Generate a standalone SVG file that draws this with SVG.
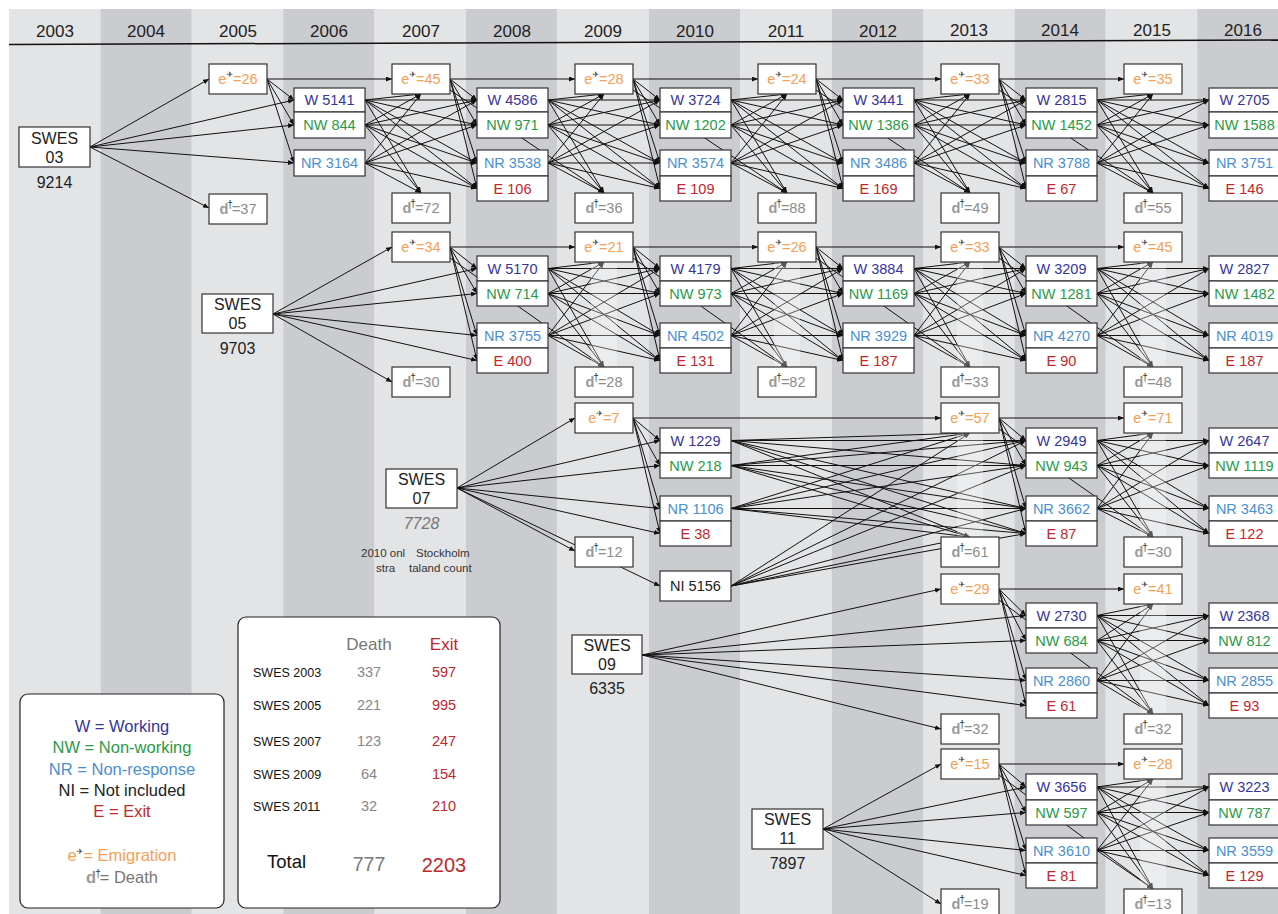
<svg xmlns="http://www.w3.org/2000/svg" width="1278" height="914" viewBox="0 0 1278 914">
<defs>
<marker id="ah" markerUnits="userSpaceOnUse" markerWidth="7" markerHeight="6" refX="6" refY="2.5" orient="auto"><path d="M0,0 L6,2.5 L0,5 Z" fill="#111"/></marker>
</defs>
<style>
.f{font-family:"Liberation Sans","DejaVu Sans",sans-serif}
.yr{font-size:17px;fill:#222;text-anchor:middle}
.bl{fill:#e3e4e6}.bd{fill:#cbcccf}
.bx{fill:#fff;stroke:#333;stroke-width:1.2}
.t{font-size:14.5px;text-anchor:middle}
.sw{font-size:16px;text-anchor:middle;fill:#222}
.sc{font-size:16px;text-anchor:middle;fill:#777;font-style:italic}
.W{fill:#35359a}.NW{fill:#2a9a48}.NR{fill:#4a8fd0}.E{fill:#c1272d}.NI{fill:#222}
.em{fill:#f5a055}.de{fill:#8c8c8c}
.pl{fill:#444;font-size:8px}.dg{fill:#333;font-size:10px}.dd{fill:#999;font-weight:bold}
#connectors line{stroke:#111;stroke-width:1;fill:none;marker-end:url(#ah)}
.fade{fill:#fff;opacity:0.3}
.lg{font-size:16.5px;text-anchor:middle}
.tb{font-size:12.5px;fill:#111}
.tn{font-size:14.5px;text-anchor:middle}
.gr{fill:#888}.rd{fill:#c1272d}
.nt{font-size:11.5px;fill:#333}
</style>
<rect x="0" y="0" width="1278" height="914" fill="#fff"/>
<g id="bands">
<rect class="bl" x="9" y="9" width="91.4" height="905"/>
<rect class="bd" x="100.4" y="9" width="91.4" height="905"/>
<rect class="bl" x="191.8" y="9" width="91.4" height="905"/>
<rect class="bd" x="283.2" y="9" width="91.4" height="905"/>
<rect class="bl" x="374.6" y="9" width="91.4" height="905"/>
<rect class="bd" x="466" y="9" width="91.4" height="905"/>
<rect class="bl" x="557.4" y="9" width="91.4" height="905"/>
<rect class="bd" x="648.8" y="9" width="91.4" height="905"/>
<rect class="bl" x="740.2" y="9" width="91.4" height="905"/>
<rect class="bd" x="831.6" y="9" width="91.4" height="905"/>
<rect class="bl" x="923" y="9" width="91.4" height="905"/>
<rect class="bd" x="1014.4" y="9" width="91.4" height="905"/>
<rect class="bl" x="1105.8" y="9" width="91.4" height="905"/>
<rect class="bd" x="1197.2" y="9" width="81" height="905"/>
<line x1="9" y1="44.5" x2="1278" y2="40" stroke="#111" stroke-width="1.5"/>
</g>
<g id="years" class="f yr">
<text x="55" y="37">2003</text><text x="146" y="37">2004</text><text x="238" y="37">2005</text><text x="329" y="37">2006</text><text x="421" y="37">2007</text><text x="512" y="37">2008</text><text x="603" y="37">2009</text><text x="695" y="37">2010</text><text x="786" y="37">2011</text><text x="878" y="37">2012</text><text x="969" y="36">2013</text><text x="1060" y="36">2014</text><text x="1152" y="36">2015</text><text x="1243" y="36">2016</text>
</g>
<g id="connectors">
<line x1="90" y1="147" x2="209" y2="79"/><line x1="90" y1="147" x2="294" y2="100"/><line x1="90" y1="147" x2="294" y2="125"/><line x1="90" y1="147" x2="294" y2="163"/><line x1="90" y1="147" x2="209" y2="208"/>
<line x1="267" y1="79" x2="294" y2="100"/><line x1="267" y1="79" x2="294" y2="125"/><line x1="267" y1="79" x2="294" y2="163"/>
<line x1="267" y1="79" x2="392" y2="79"/><line x1="450" y1="79" x2="575" y2="79"/><line x1="633" y1="79" x2="758" y2="79"/><line x1="816" y1="79" x2="941" y2="79"/><line x1="999" y1="79" x2="1124" y2="79"/>
<line x1="450" y1="79" x2="477" y2="100"/><line x1="450" y1="79" x2="477" y2="125"/><line x1="450" y1="79" x2="477" y2="163"/><line x1="450" y1="79" x2="477" y2="188.5"/>
<line x1="633" y1="79" x2="660" y2="100"/><line x1="633" y1="79" x2="660" y2="125"/><line x1="633" y1="79" x2="660" y2="163"/><line x1="633" y1="79" x2="660" y2="188.5"/>
<line x1="816" y1="79" x2="843" y2="100"/><line x1="816" y1="79" x2="843" y2="125"/><line x1="816" y1="79" x2="843" y2="163"/><line x1="816" y1="79" x2="843" y2="188.5"/>
<line x1="999" y1="79" x2="1026" y2="100"/><line x1="999" y1="79" x2="1026" y2="125"/><line x1="999" y1="79" x2="1026" y2="163"/><line x1="999" y1="79" x2="1026" y2="188.5"/>
<line x1="450" y1="90" x2="604" y2="193"/><line x1="633" y1="90" x2="787" y2="193"/><line x1="816" y1="90" x2="970" y2="193"/><line x1="999" y1="90" x2="1153" y2="193"/>
<line x1="365" y1="100" x2="421" y2="94"/><line x1="365" y1="100" x2="421" y2="193"/><line x1="365" y1="100" x2="477" y2="100"/><line x1="365" y1="100" x2="477" y2="125"/><line x1="365" y1="100" x2="477" y2="163"/><line x1="365" y1="100" x2="477" y2="188.5"/>
<line x1="365" y1="125" x2="421" y2="94"/><line x1="365" y1="125" x2="421" y2="193"/><line x1="365" y1="125" x2="477" y2="100"/><line x1="365" y1="125" x2="477" y2="125"/><line x1="365" y1="125" x2="477" y2="163"/><line x1="365" y1="125" x2="477" y2="188.5"/>
<line x1="365" y1="163" x2="421" y2="94"/><line x1="365" y1="163" x2="421" y2="193"/><line x1="365" y1="163" x2="477" y2="100"/><line x1="365" y1="163" x2="477" y2="125"/><line x1="365" y1="163" x2="477" y2="163"/><line x1="365" y1="163" x2="477" y2="188.5"/>
<line x1="548" y1="100" x2="604" y2="94"/><line x1="548" y1="100" x2="604" y2="193"/><line x1="548" y1="100" x2="660" y2="100"/><line x1="548" y1="100" x2="660" y2="125"/><line x1="548" y1="100" x2="660" y2="163"/><line x1="548" y1="100" x2="660" y2="188.5"/>
<line x1="548" y1="125" x2="604" y2="94"/><line x1="548" y1="125" x2="604" y2="193"/><line x1="548" y1="125" x2="660" y2="100"/><line x1="548" y1="125" x2="660" y2="125"/><line x1="548" y1="125" x2="660" y2="163"/><line x1="548" y1="125" x2="660" y2="188.5"/>
<line x1="548" y1="163" x2="604" y2="94"/><line x1="548" y1="163" x2="604" y2="193"/><line x1="548" y1="163" x2="660" y2="100"/><line x1="548" y1="163" x2="660" y2="125"/><line x1="548" y1="163" x2="660" y2="163"/><line x1="548" y1="163" x2="660" y2="188.5"/>
<line x1="731" y1="100" x2="787" y2="94"/><line x1="731" y1="100" x2="787" y2="193"/><line x1="731" y1="100" x2="843" y2="100"/><line x1="731" y1="100" x2="843" y2="125"/><line x1="731" y1="100" x2="843" y2="163"/><line x1="731" y1="100" x2="843" y2="188.5"/>
<line x1="731" y1="125" x2="787" y2="94"/><line x1="731" y1="125" x2="787" y2="193"/><line x1="731" y1="125" x2="843" y2="100"/><line x1="731" y1="125" x2="843" y2="125"/><line x1="731" y1="125" x2="843" y2="163"/><line x1="731" y1="125" x2="843" y2="188.5"/>
<line x1="731" y1="163" x2="787" y2="94"/><line x1="731" y1="163" x2="787" y2="193"/><line x1="731" y1="163" x2="843" y2="100"/><line x1="731" y1="163" x2="843" y2="125"/><line x1="731" y1="163" x2="843" y2="163"/><line x1="731" y1="163" x2="843" y2="188.5"/>
<line x1="914" y1="100" x2="970" y2="94"/><line x1="914" y1="100" x2="970" y2="193"/><line x1="914" y1="100" x2="1026" y2="100"/><line x1="914" y1="100" x2="1026" y2="125"/><line x1="914" y1="100" x2="1026" y2="163"/><line x1="914" y1="100" x2="1026" y2="188.5"/>
<line x1="914" y1="125" x2="970" y2="94"/><line x1="914" y1="125" x2="970" y2="193"/><line x1="914" y1="125" x2="1026" y2="100"/><line x1="914" y1="125" x2="1026" y2="125"/><line x1="914" y1="125" x2="1026" y2="163"/><line x1="914" y1="125" x2="1026" y2="188.5"/>
<line x1="914" y1="163" x2="970" y2="94"/><line x1="914" y1="163" x2="970" y2="193"/><line x1="914" y1="163" x2="1026" y2="100"/><line x1="914" y1="163" x2="1026" y2="125"/><line x1="914" y1="163" x2="1026" y2="163"/><line x1="914" y1="163" x2="1026" y2="188.5"/>
<line x1="1097" y1="100" x2="1153" y2="94"/><line x1="1097" y1="100" x2="1153" y2="193"/><line x1="1097" y1="100" x2="1209" y2="100"/><line x1="1097" y1="100" x2="1209" y2="125"/><line x1="1097" y1="100" x2="1209" y2="163"/><line x1="1097" y1="100" x2="1209" y2="188.5"/>
<line x1="1097" y1="125" x2="1153" y2="94"/><line x1="1097" y1="125" x2="1153" y2="193"/><line x1="1097" y1="125" x2="1209" y2="100"/><line x1="1097" y1="125" x2="1209" y2="125"/><line x1="1097" y1="125" x2="1209" y2="163"/><line x1="1097" y1="125" x2="1209" y2="188.5"/>
<line x1="1097" y1="163" x2="1153" y2="94"/><line x1="1097" y1="163" x2="1153" y2="193"/><line x1="1097" y1="163" x2="1209" y2="100"/><line x1="1097" y1="163" x2="1209" y2="125"/><line x1="1097" y1="163" x2="1209" y2="163"/><line x1="1097" y1="163" x2="1209" y2="188.5"/>

<line x1="273" y1="314" x2="392" y2="247"/><line x1="273" y1="314" x2="477" y2="268.5"/><line x1="273" y1="314" x2="477" y2="293.5"/><line x1="273" y1="314" x2="477" y2="335.5"/><line x1="273" y1="314" x2="477" y2="360.5"/><line x1="273" y1="314" x2="392" y2="382"/>
<line x1="450" y1="247" x2="575" y2="247"/><line x1="633" y1="247" x2="758" y2="247"/><line x1="816" y1="247" x2="941" y2="247"/><line x1="999" y1="247" x2="1124" y2="247"/>
<line x1="450" y1="247" x2="477" y2="268.5"/><line x1="450" y1="247" x2="477" y2="293.5"/><line x1="450" y1="247" x2="477" y2="335.5"/><line x1="450" y1="247" x2="477" y2="360.5"/>
<line x1="633" y1="247" x2="660" y2="268.5"/><line x1="633" y1="247" x2="660" y2="293.5"/><line x1="633" y1="247" x2="660" y2="335.5"/><line x1="633" y1="247" x2="660" y2="360.5"/>
<line x1="816" y1="247" x2="843" y2="268.5"/><line x1="816" y1="247" x2="843" y2="293.5"/><line x1="816" y1="247" x2="843" y2="335.5"/><line x1="816" y1="247" x2="843" y2="360.5"/>
<line x1="999" y1="247" x2="1026" y2="268.5"/><line x1="999" y1="247" x2="1026" y2="293.5"/><line x1="999" y1="247" x2="1026" y2="335.5"/><line x1="999" y1="247" x2="1026" y2="360.5"/>
<line x1="450" y1="258" x2="604" y2="367"/><line x1="633" y1="258" x2="787" y2="367"/><line x1="816" y1="258" x2="970" y2="367"/><line x1="999" y1="258" x2="1153" y2="367"/>
<line x1="548" y1="268.5" x2="604" y2="262"/><line x1="548" y1="268.5" x2="604" y2="367"/><line x1="548" y1="268.5" x2="660" y2="268.5"/><line x1="548" y1="268.5" x2="660" y2="293.5"/><line x1="548" y1="268.5" x2="660" y2="335.5"/><line x1="548" y1="268.5" x2="660" y2="360.5"/>
<line x1="548" y1="293.5" x2="604" y2="262"/><line x1="548" y1="293.5" x2="604" y2="367"/><line x1="548" y1="293.5" x2="660" y2="268.5"/><line x1="548" y1="293.5" x2="660" y2="293.5"/><line x1="548" y1="293.5" x2="660" y2="335.5"/><line x1="548" y1="293.5" x2="660" y2="360.5"/>
<line x1="548" y1="335.5" x2="604" y2="262"/><line x1="548" y1="335.5" x2="604" y2="367"/><line x1="548" y1="335.5" x2="660" y2="268.5"/><line x1="548" y1="335.5" x2="660" y2="293.5"/><line x1="548" y1="335.5" x2="660" y2="335.5"/><line x1="548" y1="335.5" x2="660" y2="360.5"/>
<line x1="731" y1="268.5" x2="787" y2="262"/><line x1="731" y1="268.5" x2="787" y2="367"/><line x1="731" y1="268.5" x2="843" y2="268.5"/><line x1="731" y1="268.5" x2="843" y2="293.5"/><line x1="731" y1="268.5" x2="843" y2="335.5"/><line x1="731" y1="268.5" x2="843" y2="360.5"/>
<line x1="731" y1="293.5" x2="787" y2="262"/><line x1="731" y1="293.5" x2="787" y2="367"/><line x1="731" y1="293.5" x2="843" y2="268.5"/><line x1="731" y1="293.5" x2="843" y2="293.5"/><line x1="731" y1="293.5" x2="843" y2="335.5"/><line x1="731" y1="293.5" x2="843" y2="360.5"/>
<line x1="731" y1="335.5" x2="787" y2="262"/><line x1="731" y1="335.5" x2="787" y2="367"/><line x1="731" y1="335.5" x2="843" y2="268.5"/><line x1="731" y1="335.5" x2="843" y2="293.5"/><line x1="731" y1="335.5" x2="843" y2="335.5"/><line x1="731" y1="335.5" x2="843" y2="360.5"/>
<line x1="914" y1="268.5" x2="970" y2="262"/><line x1="914" y1="268.5" x2="970" y2="367"/><line x1="914" y1="268.5" x2="1026" y2="268.5"/><line x1="914" y1="268.5" x2="1026" y2="293.5"/><line x1="914" y1="268.5" x2="1026" y2="335.5"/><line x1="914" y1="268.5" x2="1026" y2="360.5"/>
<line x1="914" y1="293.5" x2="970" y2="262"/><line x1="914" y1="293.5" x2="970" y2="367"/><line x1="914" y1="293.5" x2="1026" y2="268.5"/><line x1="914" y1="293.5" x2="1026" y2="293.5"/><line x1="914" y1="293.5" x2="1026" y2="335.5"/><line x1="914" y1="293.5" x2="1026" y2="360.5"/>
<line x1="914" y1="335.5" x2="970" y2="262"/><line x1="914" y1="335.5" x2="970" y2="367"/><line x1="914" y1="335.5" x2="1026" y2="268.5"/><line x1="914" y1="335.5" x2="1026" y2="293.5"/><line x1="914" y1="335.5" x2="1026" y2="335.5"/><line x1="914" y1="335.5" x2="1026" y2="360.5"/>
<line x1="1097" y1="268.5" x2="1153" y2="262"/><line x1="1097" y1="268.5" x2="1153" y2="367"/><line x1="1097" y1="268.5" x2="1209" y2="268.5"/><line x1="1097" y1="268.5" x2="1209" y2="293.5"/><line x1="1097" y1="268.5" x2="1209" y2="335.5"/><line x1="1097" y1="268.5" x2="1209" y2="360.5"/>
<line x1="1097" y1="293.5" x2="1153" y2="262"/><line x1="1097" y1="293.5" x2="1153" y2="367"/><line x1="1097" y1="293.5" x2="1209" y2="268.5"/><line x1="1097" y1="293.5" x2="1209" y2="293.5"/><line x1="1097" y1="293.5" x2="1209" y2="335.5"/><line x1="1097" y1="293.5" x2="1209" y2="360.5"/>
<line x1="1097" y1="335.5" x2="1153" y2="262"/><line x1="1097" y1="335.5" x2="1153" y2="367"/><line x1="1097" y1="335.5" x2="1209" y2="268.5"/><line x1="1097" y1="335.5" x2="1209" y2="293.5"/><line x1="1097" y1="335.5" x2="1209" y2="335.5"/><line x1="1097" y1="335.5" x2="1209" y2="360.5"/>

<line x1="457" y1="488" x2="575" y2="418"/><line x1="457" y1="488" x2="660" y2="440.5"/><line x1="457" y1="488" x2="660" y2="465.5"/><line x1="457" y1="488" x2="660" y2="508.5"/><line x1="457" y1="488" x2="660" y2="533.5"/><line x1="457" y1="488" x2="575" y2="551"/><line x1="457" y1="488" x2="660" y2="586"/>
<line x1="633" y1="418" x2="941" y2="418"/>
<line x1="633" y1="418" x2="660" y2="440.5"/><line x1="633" y1="418" x2="660" y2="465.5"/><line x1="633" y1="418" x2="660" y2="508.5"/><line x1="633" y1="418" x2="660" y2="533.5"/>
<line x1="731" y1="440.5" x2="970" y2="433"/><line x1="731" y1="440.5" x2="970" y2="537"/><line x1="731" y1="440.5" x2="1026" y2="440.5"/><line x1="731" y1="440.5" x2="1026" y2="465.5"/><line x1="731" y1="440.5" x2="1026" y2="508.5"/><line x1="731" y1="440.5" x2="1026" y2="533.5"/>
<line x1="731" y1="465.5" x2="970" y2="433"/><line x1="731" y1="465.5" x2="970" y2="537"/><line x1="731" y1="465.5" x2="1026" y2="440.5"/><line x1="731" y1="465.5" x2="1026" y2="465.5"/><line x1="731" y1="465.5" x2="1026" y2="508.5"/><line x1="731" y1="465.5" x2="1026" y2="533.5"/>
<line x1="731" y1="508.5" x2="970" y2="433"/><line x1="731" y1="508.5" x2="970" y2="537"/><line x1="731" y1="508.5" x2="1026" y2="440.5"/><line x1="731" y1="508.5" x2="1026" y2="465.5"/><line x1="731" y1="508.5" x2="1026" y2="508.5"/><line x1="731" y1="508.5" x2="1026" y2="533.5"/>
<line x1="731" y1="586" x2="970" y2="433"/><line x1="731" y1="586" x2="970" y2="537"/><line x1="731" y1="586" x2="1026" y2="440.5"/><line x1="731" y1="586" x2="1026" y2="465.5"/><line x1="731" y1="586" x2="1026" y2="508.5"/><line x1="731" y1="586" x2="1026" y2="533.5"/>
<line x1="999" y1="418" x2="1124" y2="418"/>
<line x1="999" y1="418" x2="1026" y2="440.5"/><line x1="999" y1="418" x2="1026" y2="465.5"/><line x1="999" y1="418" x2="1026" y2="508.5"/><line x1="999" y1="418" x2="1026" y2="533.5"/>
<line x1="999" y1="429" x2="1153" y2="537"/>
<line x1="1097" y1="440.5" x2="1153" y2="433"/><line x1="1097" y1="440.5" x2="1153" y2="537"/><line x1="1097" y1="440.5" x2="1209" y2="440.5"/><line x1="1097" y1="440.5" x2="1209" y2="465.5"/><line x1="1097" y1="440.5" x2="1209" y2="508.5"/><line x1="1097" y1="440.5" x2="1209" y2="533.5"/>
<line x1="1097" y1="465.5" x2="1153" y2="433"/><line x1="1097" y1="465.5" x2="1153" y2="537"/><line x1="1097" y1="465.5" x2="1209" y2="440.5"/><line x1="1097" y1="465.5" x2="1209" y2="465.5"/><line x1="1097" y1="465.5" x2="1209" y2="508.5"/><line x1="1097" y1="465.5" x2="1209" y2="533.5"/>
<line x1="1097" y1="508.5" x2="1153" y2="433"/><line x1="1097" y1="508.5" x2="1153" y2="537"/><line x1="1097" y1="508.5" x2="1209" y2="440.5"/><line x1="1097" y1="508.5" x2="1209" y2="465.5"/><line x1="1097" y1="508.5" x2="1209" y2="508.5"/><line x1="1097" y1="508.5" x2="1209" y2="533.5"/>

<line x1="642" y1="655" x2="941" y2="589"/><line x1="642" y1="655" x2="1026" y2="615.5"/><line x1="642" y1="655" x2="1026" y2="640.5"/><line x1="642" y1="655" x2="1026" y2="680.5"/><line x1="642" y1="655" x2="1026" y2="705.5"/><line x1="642" y1="655" x2="941" y2="729"/>
<line x1="999" y1="589" x2="1124" y2="589"/>
<line x1="999" y1="589" x2="1026" y2="615.5"/><line x1="999" y1="589" x2="1026" y2="640.5"/><line x1="999" y1="589" x2="1026" y2="680.5"/><line x1="999" y1="589" x2="1026" y2="705.5"/>
<line x1="999" y1="600" x2="1153" y2="714"/>
<line x1="1097" y1="615.5" x2="1153" y2="604"/><line x1="1097" y1="615.5" x2="1153" y2="714"/><line x1="1097" y1="615.5" x2="1209" y2="615.5"/><line x1="1097" y1="615.5" x2="1209" y2="640.5"/><line x1="1097" y1="615.5" x2="1209" y2="680.5"/><line x1="1097" y1="615.5" x2="1209" y2="705.5"/>
<line x1="1097" y1="640.5" x2="1153" y2="604"/><line x1="1097" y1="640.5" x2="1153" y2="714"/><line x1="1097" y1="640.5" x2="1209" y2="615.5"/><line x1="1097" y1="640.5" x2="1209" y2="640.5"/><line x1="1097" y1="640.5" x2="1209" y2="680.5"/><line x1="1097" y1="640.5" x2="1209" y2="705.5"/>
<line x1="1097" y1="680.5" x2="1153" y2="604"/><line x1="1097" y1="680.5" x2="1153" y2="714"/><line x1="1097" y1="680.5" x2="1209" y2="615.5"/><line x1="1097" y1="680.5" x2="1209" y2="640.5"/><line x1="1097" y1="680.5" x2="1209" y2="680.5"/><line x1="1097" y1="680.5" x2="1209" y2="705.5"/>

<line x1="823" y1="829" x2="941" y2="764"/><line x1="823" y1="829" x2="1026" y2="787"/><line x1="823" y1="829" x2="1026" y2="812.5"/><line x1="823" y1="829" x2="1026" y2="850.5"/><line x1="823" y1="829" x2="1026" y2="875.5"/><line x1="823" y1="829" x2="941" y2="904"/>
<line x1="999" y1="764" x2="1124" y2="764"/>
<line x1="999" y1="764" x2="1026" y2="787"/><line x1="999" y1="764" x2="1026" y2="812.5"/><line x1="999" y1="764" x2="1026" y2="850.5"/><line x1="999" y1="764" x2="1026" y2="875.5"/>
<line x1="999" y1="775" x2="1153" y2="889"/>
<line x1="1097" y1="787" x2="1153" y2="779"/><line x1="1097" y1="787" x2="1153" y2="889"/><line x1="1097" y1="787" x2="1209" y2="787"/><line x1="1097" y1="787" x2="1209" y2="812.5"/><line x1="1097" y1="787" x2="1209" y2="850.5"/><line x1="1097" y1="787" x2="1209" y2="875.5"/>
<line x1="1097" y1="812.5" x2="1153" y2="779"/><line x1="1097" y1="812.5" x2="1153" y2="889"/><line x1="1097" y1="812.5" x2="1209" y2="787"/><line x1="1097" y1="812.5" x2="1209" y2="812.5"/><line x1="1097" y1="812.5" x2="1209" y2="850.5"/><line x1="1097" y1="812.5" x2="1209" y2="875.5"/>
<line x1="1097" y1="850.5" x2="1153" y2="779"/><line x1="1097" y1="850.5" x2="1153" y2="889"/><line x1="1097" y1="850.5" x2="1209" y2="787"/><line x1="1097" y1="850.5" x2="1209" y2="812.5"/><line x1="1097" y1="850.5" x2="1209" y2="850.5"/><line x1="1097" y1="850.5" x2="1209" y2="875.5"/>
</g>
<g id="fades">
<rect class="fade" x="591" y="262" width="26" height="105"/><rect class="fade" x="774" y="262" width="26" height="105"/><rect class="fade" x="957" y="262" width="26" height="105"/><rect class="fade" x="1140" y="262" width="26" height="105"/>
<rect class="fade" x="957" y="433" width="26" height="104"/><rect class="fade" x="1140" y="433" width="26" height="104"/>
<rect class="fade" x="1140" y="604" width="26" height="110"/><rect class="fade" x="1140" y="779" width="26" height="110"/>
</g>

<g id="nodes" class="f">
<g id="swes03"><rect class="bx" x="19" y="127" width="71" height="40"/><text class="sw" x="54.5" y="143.5">SWES</text><text class="sw" x="54.5" y="162.5">03</text><text class="sw" x="54.5" y="187.5">9214</text></g>
<g id="swes05"><rect class="bx" x="202" y="294" width="71" height="39"/><text class="sw" x="237.5" y="310">SWES</text><text class="sw" x="237.5" y="329">05</text><text class="sw" x="237.5" y="354">9703</text></g>
<g id="swes07"><rect class="bx" x="386" y="469" width="71" height="39"/><text class="sw" x="421.5" y="485">SWES</text><text class="sw" x="421.5" y="504">07</text><text class="sc" x="421.5" y="529">7728</text>
<text class="nt" x="361" y="557">2010 onl</text><text class="nt" x="416" y="557">Stockholm</text><text class="nt" x="376" y="572">stra</text><text class="nt" x="409" y="572">taland count</text></g>
<g id="swes09"><rect class="bx" x="572" y="635" width="70" height="39"/><text class="sw" x="607" y="651">SWES</text><text class="sw" x="607" y="670">09</text><text class="sw" x="607" y="694">6335</text></g>
<g id="swes11"><rect class="bx" x="752" y="809" width="71" height="40"/><text class="sw" x="787.5" y="825">SWES</text><text class="sw" x="787.5" y="844">11</text><text class="sw" x="787.5" y="869">7897</text></g>

<g id="c03-e2005"><rect class="bx" x="209" y="64" width="58" height="30"/><text class="t em" x="238" y="84">e<tspan class="pl" dy="-7">✈</tspan><tspan dy="7">=26</tspan></text></g>
<g id="c03-e2007"><rect class="bx" x="392" y="64" width="58" height="30"/><text class="t em" x="421" y="84">e<tspan class="pl" dy="-7">✈</tspan><tspan dy="7">=45</tspan></text></g>
<g id="c03-e2009"><rect class="bx" x="575" y="64" width="58" height="30"/><text class="t em" x="604" y="84">e<tspan class="pl" dy="-7">✈</tspan><tspan dy="7">=28</tspan></text></g>
<g id="c03-e2011"><rect class="bx" x="758" y="64" width="58" height="30"/><text class="t em" x="787" y="84">e<tspan class="pl" dy="-7">✈</tspan><tspan dy="7">=24</tspan></text></g>
<g id="c03-e2013"><rect class="bx" x="941" y="64" width="58" height="30"/><text class="t em" x="970" y="84">e<tspan class="pl" dy="-7">✈</tspan><tspan dy="7">=33</tspan></text></g>
<g id="c03-e2015"><rect class="bx" x="1124" y="64" width="58" height="30"/><text class="t em" x="1153" y="84">e<tspan class="pl" dy="-7">✈</tspan><tspan dy="7">=35</tspan></text></g>
<g id="c03-d2005"><rect class="bx" x="209" y="194" width="58" height="30"/><text class="t de" x="238" y="214"><tspan class="dd">d</tspan><tspan class="dg" dy="-6" dx="-1">†</tspan><tspan dy="6" dx="-1">=37</tspan></text></g>
<g id="c03-d2007"><rect class="bx" x="392" y="193" width="58" height="30"/><text class="t de" x="421" y="213"><tspan class="dd">d</tspan><tspan class="dg" dy="-6" dx="-1">†</tspan><tspan dy="6" dx="-1">=72</tspan></text></g>
<g id="c03-d2009"><rect class="bx" x="575" y="193" width="58" height="30"/><text class="t de" x="604" y="213"><tspan class="dd">d</tspan><tspan class="dg" dy="-6" dx="-1">†</tspan><tspan dy="6" dx="-1">=36</tspan></text></g>
<g id="c03-d2011"><rect class="bx" x="758" y="193" width="58" height="30"/><text class="t de" x="787" y="213"><tspan class="dd">d</tspan><tspan class="dg" dy="-6" dx="-1">†</tspan><tspan dy="6" dx="-1">=88</tspan></text></g>
<g id="c03-d2013"><rect class="bx" x="941" y="193" width="58" height="30"/><text class="t de" x="970" y="213"><tspan class="dd">d</tspan><tspan class="dg" dy="-6" dx="-1">†</tspan><tspan dy="6" dx="-1">=49</tspan></text></g>
<g id="c03-d2015"><rect class="bx" x="1124" y="193" width="58" height="30"/><text class="t de" x="1153" y="213"><tspan class="dd">d</tspan><tspan class="dg" dy="-6" dx="-1">†</tspan><tspan dy="6" dx="-1">=55</tspan></text></g>
<g id="c03-W2006"><rect class="bx" x="294" y="88" width="71" height="24"/><text class="t W" x="329.5" y="105">W 5141</text></g>
<g id="c03-NW2006"><rect class="bx" x="294" y="112" width="71" height="26"/><text class="t NW" x="329.5" y="130">NW 844</text></g>
<g id="c03-NR2006"><rect class="bx" x="294" y="150" width="71" height="26"/><text class="t NR" x="329.5" y="168">NR 3164</text></g>
<g id="c03-W2008"><rect class="bx" x="477" y="88" width="71" height="24"/><text class="t W" x="512.5" y="105">W 4586</text></g>
<g id="c03-NW2008"><rect class="bx" x="477" y="112" width="71" height="26"/><text class="t NW" x="512.5" y="130">NW 971</text></g>
<g id="c03-NR2008"><rect class="bx" x="477" y="150" width="71" height="26"/><text class="t NR" x="512.5" y="168">NR 3538</text></g>
<g id="c03-E2008"><rect class="bx" x="477" y="176" width="71" height="25"/><text class="t E" x="512.5" y="193.5">E 106</text></g>
<g id="c03-W2010"><rect class="bx" x="660" y="88" width="71" height="24"/><text class="t W" x="695.5" y="105">W 3724</text></g>
<g id="c03-NW2010"><rect class="bx" x="660" y="112" width="71" height="26"/><text class="t NW" x="695.5" y="130">NW 1202</text></g>
<g id="c03-NR2010"><rect class="bx" x="660" y="150" width="71" height="26"/><text class="t NR" x="695.5" y="168">NR 3574</text></g>
<g id="c03-E2010"><rect class="bx" x="660" y="176" width="71" height="25"/><text class="t E" x="695.5" y="193.5">E 109</text></g>
<g id="c03-W2012"><rect class="bx" x="843" y="88" width="71" height="24"/><text class="t W" x="878.5" y="105">W 3441</text></g>
<g id="c03-NW2012"><rect class="bx" x="843" y="112" width="71" height="26"/><text class="t NW" x="878.5" y="130">NW 1386</text></g>
<g id="c03-NR2012"><rect class="bx" x="843" y="150" width="71" height="26"/><text class="t NR" x="878.5" y="168">NR 3486</text></g>
<g id="c03-E2012"><rect class="bx" x="843" y="176" width="71" height="25"/><text class="t E" x="878.5" y="193.5">E 169</text></g>
<g id="c03-W2014"><rect class="bx" x="1026" y="88" width="71" height="24"/><text class="t W" x="1061.5" y="105">W 2815</text></g>
<g id="c03-NW2014"><rect class="bx" x="1026" y="112" width="71" height="26"/><text class="t NW" x="1061.5" y="130">NW 1452</text></g>
<g id="c03-NR2014"><rect class="bx" x="1026" y="150" width="71" height="26"/><text class="t NR" x="1061.5" y="168">NR 3788</text></g>
<g id="c03-E2014"><rect class="bx" x="1026" y="176" width="71" height="25"/><text class="t E" x="1061.5" y="193.5">E 67</text></g>
<g id="c03-W2016"><rect class="bx" x="1209" y="88" width="71" height="24"/><text class="t W" x="1244.5" y="105">W 2705</text></g>
<g id="c03-NW2016"><rect class="bx" x="1209" y="112" width="71" height="26"/><text class="t NW" x="1244.5" y="130">NW 1588</text></g>
<g id="c03-NR2016"><rect class="bx" x="1209" y="150" width="71" height="26"/><text class="t NR" x="1244.5" y="168">NR 3751</text></g>
<g id="c03-E2016"><rect class="bx" x="1209" y="176" width="71" height="25"/><text class="t E" x="1244.5" y="193.5">E 146</text></g>

<g id="c05-e2007"><rect class="bx" x="392" y="232" width="58" height="30"/><text class="t em" x="421" y="252">e<tspan class="pl" dy="-7">✈</tspan><tspan dy="7">=34</tspan></text></g>
<g id="c05-e2009"><rect class="bx" x="575" y="232" width="58" height="30"/><text class="t em" x="604" y="252">e<tspan class="pl" dy="-7">✈</tspan><tspan dy="7">=21</tspan></text></g>
<g id="c05-e2011"><rect class="bx" x="758" y="232" width="58" height="30"/><text class="t em" x="787" y="252">e<tspan class="pl" dy="-7">✈</tspan><tspan dy="7">=26</tspan></text></g>
<g id="c05-e2013"><rect class="bx" x="941" y="232" width="58" height="30"/><text class="t em" x="970" y="252">e<tspan class="pl" dy="-7">✈</tspan><tspan dy="7">=33</tspan></text></g>
<g id="c05-e2015"><rect class="bx" x="1124" y="232" width="58" height="30"/><text class="t em" x="1153" y="252">e<tspan class="pl" dy="-7">✈</tspan><tspan dy="7">=45</tspan></text></g>
<g id="c05-d2007"><rect class="bx" x="392" y="367" width="58" height="30"/><text class="t de" x="421" y="387"><tspan class="dd">d</tspan><tspan class="dg" dy="-6" dx="-1">†</tspan><tspan dy="6" dx="-1">=30</tspan></text></g>
<g id="c05-d2009"><rect class="bx" x="575" y="367" width="58" height="30"/><text class="t de" x="604" y="387"><tspan class="dd">d</tspan><tspan class="dg" dy="-6" dx="-1">†</tspan><tspan dy="6" dx="-1">=28</tspan></text></g>
<g id="c05-d2011"><rect class="bx" x="758" y="367" width="58" height="30"/><text class="t de" x="787" y="387"><tspan class="dd">d</tspan><tspan class="dg" dy="-6" dx="-1">†</tspan><tspan dy="6" dx="-1">=82</tspan></text></g>
<g id="c05-d2013"><rect class="bx" x="941" y="367" width="58" height="30"/><text class="t de" x="970" y="387"><tspan class="dd">d</tspan><tspan class="dg" dy="-6" dx="-1">†</tspan><tspan dy="6" dx="-1">=33</tspan></text></g>
<g id="c05-d2015"><rect class="bx" x="1124" y="367" width="58" height="30"/><text class="t de" x="1153" y="387"><tspan class="dd">d</tspan><tspan class="dg" dy="-6" dx="-1">†</tspan><tspan dy="6" dx="-1">=48</tspan></text></g>
<g id="c05-W2008"><rect class="bx" x="477" y="256" width="71" height="25"/><text class="t W" x="512.5" y="273.5">W 5170</text></g>
<g id="c05-NW2008"><rect class="bx" x="477" y="281" width="71" height="25"/><text class="t NW" x="512.5" y="298.5">NW 714</text></g>
<g id="c05-NR2008"><rect class="bx" x="477" y="323" width="71" height="25"/><text class="t NR" x="512.5" y="340.5">NR 3755</text></g>
<g id="c05-E2008"><rect class="bx" x="477" y="348" width="71" height="25"/><text class="t E" x="512.5" y="365.5">E 400</text></g>
<g id="c05-W2010"><rect class="bx" x="660" y="256" width="71" height="25"/><text class="t W" x="695.5" y="273.5">W 4179</text></g>
<g id="c05-NW2010"><rect class="bx" x="660" y="281" width="71" height="25"/><text class="t NW" x="695.5" y="298.5">NW 973</text></g>
<g id="c05-NR2010"><rect class="bx" x="660" y="323" width="71" height="25"/><text class="t NR" x="695.5" y="340.5">NR 4502</text></g>
<g id="c05-E2010"><rect class="bx" x="660" y="348" width="71" height="25"/><text class="t E" x="695.5" y="365.5">E 131</text></g>
<g id="c05-W2012"><rect class="bx" x="843" y="256" width="71" height="25"/><text class="t W" x="878.5" y="273.5">W 3884</text></g>
<g id="c05-NW2012"><rect class="bx" x="843" y="281" width="71" height="25"/><text class="t NW" x="878.5" y="298.5">NW 1169</text></g>
<g id="c05-NR2012"><rect class="bx" x="843" y="323" width="71" height="25"/><text class="t NR" x="878.5" y="340.5">NR 3929</text></g>
<g id="c05-E2012"><rect class="bx" x="843" y="348" width="71" height="25"/><text class="t E" x="878.5" y="365.5">E 187</text></g>
<g id="c05-W2014"><rect class="bx" x="1026" y="256" width="71" height="25"/><text class="t W" x="1061.5" y="273.5">W 3209</text></g>
<g id="c05-NW2014"><rect class="bx" x="1026" y="281" width="71" height="25"/><text class="t NW" x="1061.5" y="298.5">NW 1281</text></g>
<g id="c05-NR2014"><rect class="bx" x="1026" y="323" width="71" height="25"/><text class="t NR" x="1061.5" y="340.5">NR 4270</text></g>
<g id="c05-E2014"><rect class="bx" x="1026" y="348" width="71" height="25"/><text class="t E" x="1061.5" y="365.5">E 90</text></g>
<g id="c05-W2016"><rect class="bx" x="1209" y="256" width="71" height="25"/><text class="t W" x="1244.5" y="273.5">W 2827</text></g>
<g id="c05-NW2016"><rect class="bx" x="1209" y="281" width="71" height="25"/><text class="t NW" x="1244.5" y="298.5">NW 1482</text></g>
<g id="c05-NR2016"><rect class="bx" x="1209" y="323" width="71" height="25"/><text class="t NR" x="1244.5" y="340.5">NR 4019</text></g>
<g id="c05-E2016"><rect class="bx" x="1209" y="348" width="71" height="25"/><text class="t E" x="1244.5" y="365.5">E 187</text></g>

<g id="c07-e2009"><rect class="bx" x="575" y="403" width="58" height="30"/><text class="t em" x="604" y="423">e<tspan class="pl" dy="-7">✈</tspan><tspan dy="7">=7</tspan></text></g>
<g id="c07-d2009"><rect class="bx" x="575" y="537" width="58" height="30"/><text class="t de" x="604" y="557"><tspan class="dd">d</tspan><tspan class="dg" dy="-6" dx="-1">†</tspan><tspan dy="6" dx="-1">=12</tspan></text></g>
<g id="c07-W2010"><rect class="bx" x="660" y="428" width="71" height="25"/><text class="t W" x="695.5" y="445.5">W 1229</text></g>
<g id="c07-NW2010"><rect class="bx" x="660" y="453" width="71" height="25"/><text class="t NW" x="695.5" y="470.5">NW 218</text></g>
<g id="c07-NR2010"><rect class="bx" x="660" y="496" width="71" height="25"/><text class="t NR" x="695.5" y="513.5">NR 1106</text></g>
<g id="c07-E2010"><rect class="bx" x="660" y="521" width="71" height="25"/><text class="t E" x="695.5" y="538.5">E 38</text></g>
<g id="c07-NI2010"><rect class="bx" x="660" y="571" width="71" height="30"/><text class="t NI" x="695.5" y="591">NI 5156</text></g>
<g id="c07-e2013"><rect class="bx" x="941" y="403" width="58" height="30"/><text class="t em" x="970" y="423">e<tspan class="pl" dy="-7">✈</tspan><tspan dy="7">=57</tspan></text></g>
<g id="c07-d2013"><rect class="bx" x="941" y="537" width="58" height="30"/><text class="t de" x="970" y="557"><tspan class="dd">d</tspan><tspan class="dg" dy="-6" dx="-1">†</tspan><tspan dy="6" dx="-1">=61</tspan></text></g>
<g id="c07-W2014"><rect class="bx" x="1026" y="428" width="71" height="25"/><text class="t W" x="1061.5" y="445.5">W 2949</text></g>
<g id="c07-NW2014"><rect class="bx" x="1026" y="453" width="71" height="25"/><text class="t NW" x="1061.5" y="470.5">NW 943</text></g>
<g id="c07-NR2014"><rect class="bx" x="1026" y="496" width="71" height="25"/><text class="t NR" x="1061.5" y="513.5">NR 3662</text></g>
<g id="c07-E2014"><rect class="bx" x="1026" y="521" width="71" height="25"/><text class="t E" x="1061.5" y="538.5">E 87</text></g>
<g id="c07-e2015"><rect class="bx" x="1124" y="403" width="58" height="30"/><text class="t em" x="1153" y="423">e<tspan class="pl" dy="-7">✈</tspan><tspan dy="7">=71</tspan></text></g>
<g id="c07-d2015"><rect class="bx" x="1124" y="537" width="58" height="30"/><text class="t de" x="1153" y="557"><tspan class="dd">d</tspan><tspan class="dg" dy="-6" dx="-1">†</tspan><tspan dy="6" dx="-1">=30</tspan></text></g>
<g id="c07-W2016"><rect class="bx" x="1209" y="428" width="71" height="25"/><text class="t W" x="1244.5" y="445.5">W 2647</text></g>
<g id="c07-NW2016"><rect class="bx" x="1209" y="453" width="71" height="25"/><text class="t NW" x="1244.5" y="470.5">NW 1119</text></g>
<g id="c07-NR2016"><rect class="bx" x="1209" y="496" width="71" height="25"/><text class="t NR" x="1244.5" y="513.5">NR 3463</text></g>
<g id="c07-E2016"><rect class="bx" x="1209" y="521" width="71" height="25"/><text class="t E" x="1244.5" y="538.5">E 122</text></g>

<g id="c09-e2013"><rect class="bx" x="941" y="574" width="58" height="30"/><text class="t em" x="970" y="594">e<tspan class="pl" dy="-7">✈</tspan><tspan dy="7">=29</tspan></text></g>
<g id="c09-d2013"><rect class="bx" x="941" y="714" width="58" height="30"/><text class="t de" x="970" y="734"><tspan class="dd">d</tspan><tspan class="dg" dy="-6" dx="-1">†</tspan><tspan dy="6" dx="-1">=32</tspan></text></g>
<g id="c09-W2014"><rect class="bx" x="1026" y="603" width="71" height="25"/><text class="t W" x="1061.5" y="620.5">W 2730</text></g>
<g id="c09-NW2014"><rect class="bx" x="1026" y="628" width="71" height="25"/><text class="t NW" x="1061.5" y="645.5">NW 684</text></g>
<g id="c09-NR2014"><rect class="bx" x="1026" y="668" width="71" height="25"/><text class="t NR" x="1061.5" y="685.5">NR 2860</text></g>
<g id="c09-E2014"><rect class="bx" x="1026" y="693" width="71" height="25"/><text class="t E" x="1061.5" y="710.5">E 61</text></g>
<g id="c09-e2015"><rect class="bx" x="1124" y="574" width="58" height="30"/><text class="t em" x="1153" y="594">e<tspan class="pl" dy="-7">✈</tspan><tspan dy="7">=41</tspan></text></g>
<g id="c09-d2015"><rect class="bx" x="1124" y="714" width="58" height="30"/><text class="t de" x="1153" y="734"><tspan class="dd">d</tspan><tspan class="dg" dy="-6" dx="-1">†</tspan><tspan dy="6" dx="-1">=32</tspan></text></g>
<g id="c09-W2016"><rect class="bx" x="1209" y="603" width="71" height="25"/><text class="t W" x="1244.5" y="620.5">W 2368</text></g>
<g id="c09-NW2016"><rect class="bx" x="1209" y="628" width="71" height="25"/><text class="t NW" x="1244.5" y="645.5">NW 812</text></g>
<g id="c09-NR2016"><rect class="bx" x="1209" y="668" width="71" height="25"/><text class="t NR" x="1244.5" y="685.5">NR 2855</text></g>
<g id="c09-E2016"><rect class="bx" x="1209" y="693" width="71" height="25"/><text class="t E" x="1244.5" y="710.5">E 93</text></g>

<g id="c11-e2013"><rect class="bx" x="941" y="749" width="58" height="30"/><text class="t em" x="970" y="769">e<tspan class="pl" dy="-7">✈</tspan><tspan dy="7">=15</tspan></text></g>
<g id="c11-d2013"><rect class="bx" x="941" y="889" width="58" height="30"/><text class="t de" x="970" y="909"><tspan class="dd">d</tspan><tspan class="dg" dy="-6" dx="-1">†</tspan><tspan dy="6" dx="-1">=19</tspan></text></g>
<g id="c11-W2014"><rect class="bx" x="1026" y="774" width="71" height="26"/><text class="t W" x="1061.5" y="792">W 3656</text></g>
<g id="c11-NW2014"><rect class="bx" x="1026" y="800" width="71" height="25"/><text class="t NW" x="1061.5" y="817.5">NW 597</text></g>
<g id="c11-NR2014"><rect class="bx" x="1026" y="838" width="71" height="25"/><text class="t NR" x="1061.5" y="855.5">NR 3610</text></g>
<g id="c11-E2014"><rect class="bx" x="1026" y="863" width="71" height="25"/><text class="t E" x="1061.5" y="880.5">E 81</text></g>
<g id="c11-e2015"><rect class="bx" x="1124" y="749" width="58" height="30"/><text class="t em" x="1153" y="769">e<tspan class="pl" dy="-7">✈</tspan><tspan dy="7">=28</tspan></text></g>
<g id="c11-d2015"><rect class="bx" x="1124" y="889" width="58" height="30"/><text class="t de" x="1153" y="909"><tspan class="dd">d</tspan><tspan class="dg" dy="-6" dx="-1">†</tspan><tspan dy="6" dx="-1">=13</tspan></text></g>
<g id="c11-W2016"><rect class="bx" x="1209" y="774" width="71" height="26"/><text class="t W" x="1244.5" y="792">W 3223</text></g>
<g id="c11-NW2016"><rect class="bx" x="1209" y="800" width="71" height="25"/><text class="t NW" x="1244.5" y="817.5">NW 787</text></g>
<g id="c11-NR2016"><rect class="bx" x="1209" y="838" width="71" height="25"/><text class="t NR" x="1244.5" y="855.5">NR 3559</text></g>
<g id="c11-E2016"><rect class="bx" x="1209" y="863" width="71" height="25"/><text class="t E" x="1244.5" y="880.5">E 129</text></g>
</g>

<g id="legend" class="f">
<rect x="20" y="694" width="204" height="214" rx="8" fill="#fff" stroke="#222" stroke-width="1.2"/>
<text class="lg W" x="122" y="732">W = Working</text>
<text class="lg NW" x="122" y="753">NW = Non-working</text>
<text class="lg NR" x="122" y="775">NR = Non-response</text>
<text class="lg NI" x="122" y="796">NI = Not included</text>
<text class="lg E" x="122" y="817">E = Exit</text>
<text class="lg em" x="122" y="861">e<tspan class="pl" dy="-7">✈</tspan><tspan dy="7">= Emigration</tspan></text>
<text class="lg de" x="122" y="883"><tspan class="dd">d</tspan><tspan class="dg" dy="-6" dx="-1">†</tspan><tspan dy="6" dx="-1" fill="#777">= Death</tspan></text>
</g>

<g id="table" class="f">
<rect x="238" y="617" width="262" height="291" rx="8" fill="#fff" stroke="#222" stroke-width="1.2"/>
<text x="369" y="650" font-size="17" fill="#777" text-anchor="middle">Death</text>
<text x="444" y="650" font-size="17" fill="#c1272d" text-anchor="middle">Exit</text>
<text class="tb" x="253" y="677">SWES 2003</text><text class="tn gr" x="369" y="677">337</text><text class="tn rd" x="444" y="677">597</text>
<text class="tb" x="253" y="710">SWES 2005</text><text class="tn gr" x="369" y="710">221</text><text class="tn rd" x="444" y="710">995</text>
<text class="tb" x="253" y="746">SWES 2007</text><text class="tn gr" x="369" y="746">123</text><text class="tn rd" x="444" y="746">247</text>
<text class="tb" x="253" y="779">SWES 2009</text><text class="tn gr" x="369" y="779">64</text><text class="tn rd" x="444" y="779">154</text>
<text class="tb" x="253" y="811">SWES 2011</text><text class="tn gr" x="369" y="811">32</text><text class="tn rd" x="444" y="811">210</text>
<text x="267" y="868" font-size="18.5" fill="#111">Total</text>
<text x="369" y="871" font-size="19.5" fill="#777" text-anchor="middle">777</text>
<text x="444" y="872" font-size="20" fill="#c1272d" text-anchor="middle">2203</text>
</g>
</svg>
